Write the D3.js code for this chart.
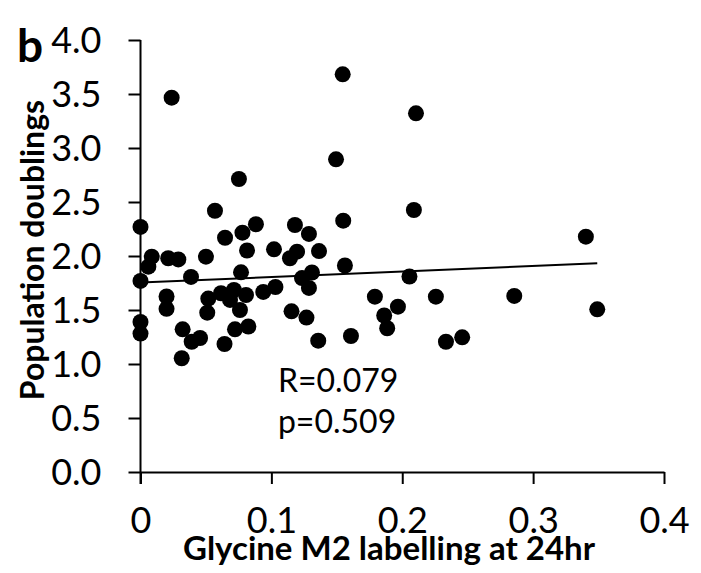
<!DOCTYPE html>
<html>
<head>
<meta charset="utf-8">
<script src="https://d3js.org/d3.v7.min.js"></script>
<style>
  body { margin: 0; background: #fff; }
  text { font-family: Lato, "Open Sans", sans-serif; fill: #000; }
</style>
</head>
<body>
<svg id="svg1" width="701" height="573"></svg>
<script>
"use strict";

// glycine M2 labelling at 24hr (x) vs population doublings (y)
const glycineM2 = [
  0.0238, 0.1545, 0.2105, 0.1494, 0.0752, 0.2089, 0.3403, 0.1549, 0.0569, 0.0000,
  0.0646, 0.0779, 0.0882, 0.1180, 0.1287, 0.0086, 0.0060, 0.0212, 0.0289, 0.0500,
  0.0814, 0.1020, 0.1196, 0.1142, 0.1364, 0.0000, 0.0386, 0.0768, 0.1234, 0.1310,
  0.1287, 0.1562, 0.2055, 0.0938, 0.1031, 0.0199, 0.0199, 0.0518, 0.0510, 0.0615,
  0.0714, 0.0684, 0.0760, 0.0806, 0.0000, 0.0000, 0.0322, 0.0391, 0.0455, 0.0642,
  0.0722, 0.0824, 0.1154, 0.1268, 0.0315, 0.1358, 0.1791, 0.2257, 0.1967, 0.1862,
  0.1885, 0.1608, 0.2334, 0.2458, 0.2856, 0.3490
];
const doublings = [
  3.466, 3.682, 3.321, 2.895, 2.713, 2.426, 2.179, 2.327, 2.419, 2.269,
  2.169, 2.216, 2.294, 2.287, 2.204, 1.994, 1.901, 1.979, 1.968, 1.994,
  2.051, 2.062, 2.040, 1.979, 2.046, 1.769, 1.806, 1.849, 1.796, 1.847,
  1.704, 1.912, 1.810, 1.667, 1.713, 1.625, 1.511, 1.606, 1.475, 1.655,
  1.685, 1.593, 1.500, 1.639, 1.389, 1.282, 1.321, 1.206, 1.241, 1.185,
  1.321, 1.347, 1.488, 1.430, 1.053, 1.216, 1.623, 1.623, 1.531, 1.449,
  1.331, 1.259, 1.206, 1.247, 1.630, 1.506
];

// trend line ends (as drawn in the figure)
const trendX = [0, 0.349];
const trendY = [1.755, 1.932];

const xTicks = [0, 0.1, 0.2, 0.3, 0.4];
const xTickLabels = ["0", "0.1", "0.2", "0.3", "0.4"];
const yTicks = [0, 0.5, 1, 1.5, 2, 2.5, 3, 3.5, 4];
const yTickLabels = ["0.0", "0.5", "1.0", "1.5", "2.0", "2.5", "3.0", "3.5", "4.0"];

const svg    = d3.select("#svg1"),
      margin = {top: 40, right: 37, bottom: 101, left: 140.5},
      width  = +svg.attr("width")  - margin.left - margin.right,
      height = +svg.attr("height") - margin.top  - margin.bottom,
      x      = d3.scaleLinear().domain([0, 0.4]).range([0, width]),
      y      = d3.scaleLinear().domain([0, 4]).range([height, 0]),
      g      = svg.append("g").attr("transform", `translate(${margin.left},${margin.top})`);

// x axis
const xAxis = g.append("g")
  .attr("class", "axis axis-x")
  .attr("transform", `translate(0,${height})`)
  .call(d3.axisBottom(x).tickValues(xTicks).tickFormat((d, i) => xTickLabels[i]).tickSize(12).tickSizeOuter(0).tickPadding(23));

// y axis
const yAxis = g.append("g")
  .attr("class", "axis axis-y")
  .call(d3.axisLeft(y).tickValues(yTicks).tickFormat((d, i) => yTickLabels[i]).tickSize(12).tickSizeOuter(0).tickPadding(27));

// y axis line runs down past the x axis a little, like the original
yAxis.select(".domain").attr("d", `M0,0V${height + 12}`);

[xAxis, yAxis].forEach(a => {
  a.selectAll("path, line").attr("stroke", "#000").attr("stroke-width", 2);
  a.selectAll("text").attr("fill", "#000").style("font-size", "36px");
});
yAxis.selectAll("text").attr("dy", "0.36em");

// points
g.selectAll(".dot")
  .data(glycineM2)
  .enter()
  .append("circle")
  .attr("class", "dot")
  .attr("cx", d => x(d))
  .attr("cy", (d, i) => y(doublings[i]))
  .attr("r", 8)
  .attr("fill", "#000");

// trend line
g.append("line")
  .attr("x1", x(trendX[0])).attr("y1", y(trendY[0]))
  .attr("x2", x(trendX[1])).attr("y2", y(trendY[1]))
  .attr("stroke", "#000")
  .attr("stroke-width", 2);

// stats
g.append("text").attr("x", x(0.105)).attr("y", y(0.74)).style("font-size", "32px").text("R=0.079");
g.append("text").attr("x", x(0.105)).attr("y", y(0.36)).style("font-size", "32px").text("p=0.509");

// panel letter
svg.append("text").attr("x", 17).attr("y", 62).style("font-size", "46px").style("font-weight", "bold").text("b");

// axis titles
svg.append("text")
  .attr("transform", "translate(389,560)")
  .style("text-anchor", "middle")
  .style("font-size", "33px")
  .style("font-weight", "bold")
  .text("Glycine M2 labelling at 24hr");

svg.append("text")
  .attr("transform", "rotate(-90)")
  .attr("x", -250)
  .attr("y", 44)
  .style("text-anchor", "middle")
  .style("font-size", "32px")
  .style("font-weight", "bold")
  .text("Population doublings");
</script>
</body>
</html>
